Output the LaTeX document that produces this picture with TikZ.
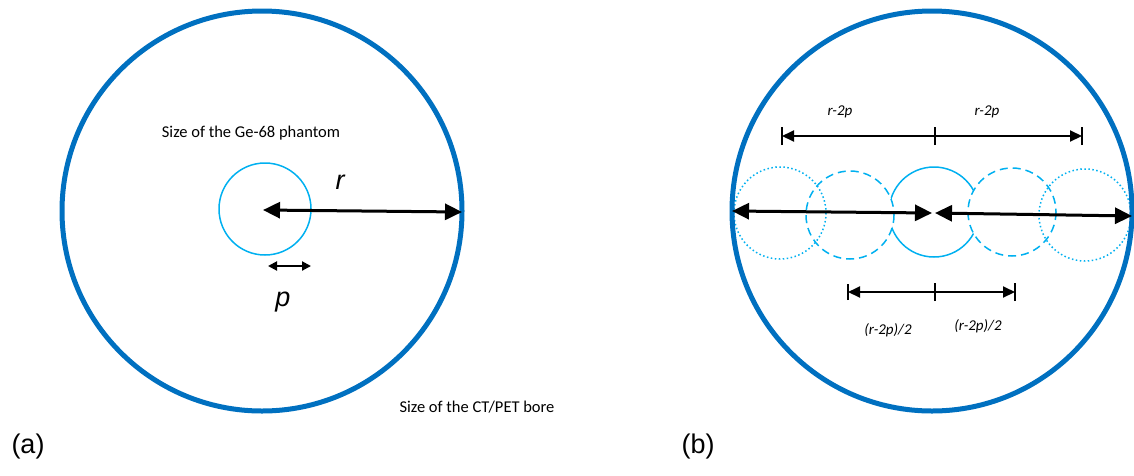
\documentclass[tikz,border=0pt]{standalone}
\usepackage{fontspec}
\setmainfont{Carlito}
\newfontfamily\arialf{Liberation Sans}
\usetikzlibrary{arrows.meta}
\definecolor{bigblue}{HTML}{0070C0}
\definecolor{smallblue}{HTML}{00B0F0}
\tikzset{
  bore/.style={draw=bigblue,line width=5pt},
  phantom/.style={draw=smallblue,line width=1.5pt},
  bigarrow/.style={line width=3pt,{Triangle[length=17pt,width=16pt]}-{Triangle[length=17pt,width=16pt]}},
  smallarrow/.style={line width=2pt,{Triangle[length=9pt,width=9pt]}-{Triangle[length=9pt,width=9pt]}},
  dimarrow/.style={line width=2pt,-{Triangle[length=12pt,width=11pt]}},
  dimtick/.style={line width=2pt},
  lbl/.style={font=\fontsize{16.5}{18}\selectfont,inner sep=0pt},
  dimlbl/.style={font=\fontsize{15}{17}\selectfont\itshape,inner sep=0pt},
  varlbl/.style={font=\arialf\fontsize{27}{30}\selectfont\itshape,inner sep=0pt},
  panel/.style={font=\arialf\fontsize{27}{30}\selectfont,inner sep=0pt},
}
\begin{document}
\begin{tikzpicture}[x=1pt,y=-1pt]
\useasboundingbox (0,0) rectangle (1134,475);
% ---------------- panel (a)
\draw[bore] (262,211) circle (200);
\draw[phantom] (265,209) circle (46);
\coordinate (ac) at (263,210);
\coordinate (ae) at (462,212);
\draw[bigarrow] (ac) -- (ae);
\coordinate (pl) at (268,266);
\coordinate (pr) at (311,266);
\draw[smallarrow] (pl) -- (pr);
\node[varlbl] (rlab) at (340,182) {r};
\node[varlbl] (plab) at (283,302) {p};
\node[lbl] (t1) at (251,133) {Size of the Ge-68 phantom};
\node[lbl] (t2) at (477,407) {Size of the CT/PET bore};
\node[panel] (pa) at (28,447) {(a)};
% ---------------- panel (b)
\draw[phantom] (934,212) circle (45);
\draw[phantom,fill=white,dash pattern=on 8pt off 5pt] (850,215) circle (44);
\draw[phantom,fill=white,dash pattern=on 8pt off 5pt] (1012,212) circle (44);
\draw[phantom,dash pattern=on 1.5pt off 2.5pt] (780,213) circle (46);
\draw[phantom,dash pattern=on 1.5pt off 2.5pt] (1085,215) circle (46);
\draw[bore] (932,211) circle (200);
\coordinate (bl) at (732,211);
\coordinate (bm1) at (932,213);
\coordinate (bm2) at (935,213);
\coordinate (br) at (1132,216);
\draw[bigarrow] (bl) -- (bm1);
\draw[bigarrow] (bm2) -- (br);
% top dimension
\coordinate (tl) at (782,136);
\coordinate (tm) at (935,136);
\coordinate (tr) at (1082,136);
\draw[dimarrow] (tm) -- (tl);
\draw[dimarrow] (tm) -- (tr);
\draw[dimtick] ([yshift=-9pt]tl) -- ([yshift=9pt]tl);
\draw[dimtick] ([yshift=-9pt]tm) -- ([yshift=9pt]tm);
\draw[dimtick] ([yshift=-9pt]tr) -- ([yshift=9pt]tr);
\node[dimlbl] (d1) at (840,112) {r-2p};
\node[dimlbl] (d2) at (987,112) {r-2p};
% bottom dimension
\coordinate (ul) at (848,292);
\coordinate (um) at (935,292);
\coordinate (ur) at (1015,292);
\draw[dimarrow] (um) -- (ul);
\draw[dimarrow] (um) -- (ur);
\draw[dimtick] ([yshift=-8pt]ul) -- ([yshift=8pt]ul);
\draw[dimtick] ([yshift=-9pt]um) -- ([yshift=9pt]um);
\draw[dimtick] ([yshift=-9pt]ur) -- ([yshift=9pt]ur);
\node[dimlbl] (d3) at (888,330) {(r-2p)/2};
\node[dimlbl] (d4) at (978,326) {(r-2p)/2};
\node[panel] (pb) at (698,447) {(b)};
\end{tikzpicture}
\end{document}
